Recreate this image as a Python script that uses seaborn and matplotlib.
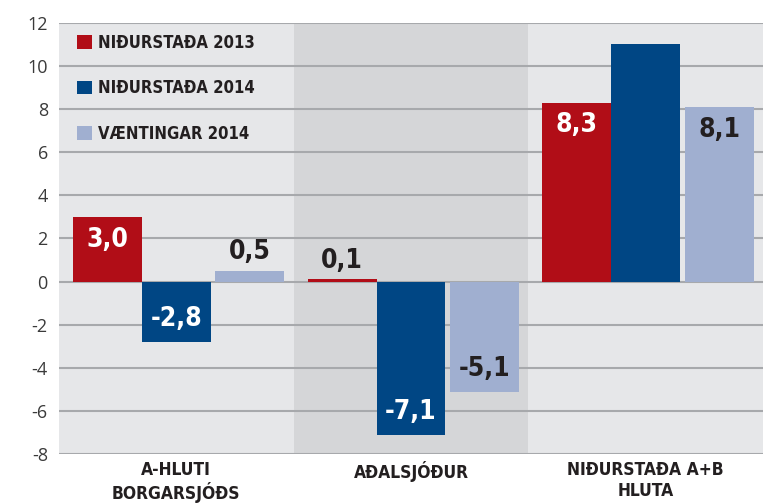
import pandas as pd
import numpy as np
import matplotlib.pyplot as plt
import seaborn as sns

# --- Data ---
groups = ['A-HLUTI\nBORGARSJÓÐS', 'AÐALSJÓÐUR', 'NIÐURSTAÐA A+B\nHLUTA']
series = ['NIÐURSTAÐA 2013', 'NIÐURSTAÐA 2014', 'VÆNTINGAR 2014']
nidurstada_2013 = [3.0, 0.1, 8.3]
nidurstada_2014 = [-2.8, -7.1, 11.0]
vaentingar_2014 = [0.5, -5.1, 8.1]
show_label = [[True, True, True], [True, True, False], [True, True, True]]

colors = ['#b10d17', '#004684', '#a0afd0']
label_colors = ['white', 'white', '#231f20']
bg_light = '#e6e7e9'
bg_dark = '#d5d6d8'

df = pd.DataFrame({
    'group': groups * 3,
    'series': np.repeat(series, 3),
    'value': nidurstada_2013 + nidurstada_2014 + vaentingar_2014,
})

sns.set_style('white')
plt.rcParams['font.family'] = ['DejaVu Sans']
plt.rcParams['font.stretch'] = 'condensed'

fig = plt.figure(figsize=(7.78, 5.03), dpi=100)
ax = fig.add_axes([0.0758, 0.0974, 0.905, 0.857])

# background bands
for i in range(3):
    ax.axvspan(i - 0.5, i + 0.5, color=bg_dark if i == 1 else bg_light, zorder=0, lw=0)

sns.barplot(data=df, x='group', y='value', hue='series', palette=colors,
            saturation=1, width=0.88, errorbar=None, ax=ax, zorder=2, linewidth=0)

# small gap before the third series
for j, cont in enumerate(ax.containers):
    if j == 2:
        for p in cont:
            p.set_x(p.get_x() + 0.02)

# value labels
all_vals = [nidurstada_2013, nidurstada_2014, vaentingar_2014]
for j, cont in enumerate(ax.containers):
    for i, p in enumerate(cont):
        if not show_label[j][i]:
            continue
        v = all_vals[j][i]
        xc = p.get_x() + p.get_width() / 2
        if abs(v) > 1:
            y = v - np.sign(v) * 1.05
            col = label_colors[j]
        else:
            y = v + 0.85
            col = '#231f20'
        ax.text(xc, y, f'{v:.1f}'.replace('.', ','), ha='center', va='center',
                fontsize=19, fontweight='heavy', color=col, zorder=3)

ax.set_xlim(-0.5, 2.5)
ax.set_ylim(-8, 12)
ax.set_yticks(range(-8, 13, 2))
ax.yaxis.grid(True, color='#a7a9ac', lw=1.5, zorder=1)
ax.set_axisbelow(True)
for s in ax.spines.values():
    s.set_visible(False)
ax.tick_params(length=0)
ax.tick_params(axis='y', labelsize=13, labelcolor='#3a3a3a', pad=8)
ax.set_yticklabels([str(t) for t in range(-8, 13, 2)], family=['Open Sans', 'DejaVu Sans'],
                   stretch='normal')
ax.set_xticks(range(3))
ax.set_xticklabels(groups, fontsize=12.5, fontweight='bold', color='#231f20', linespacing=1.2)
ax.tick_params(axis='x', pad=5)
ax.set_xlabel('')
ax.set_ylabel('')

handles, labels = ax.get_legend_handles_labels()
leg = ax.legend(handles, labels, loc='upper left', bbox_to_anchor=(0.0256, 0.975),
                frameon=False, borderpad=0, borderaxespad=0, handlelength=0.9,
                handleheight=0.9, handletextpad=0.35, labelspacing=1.65,
                prop={'size': 12, 'weight': 'bold', 'stretch': 'condensed'})
for t in leg.get_texts():
    t.set_color('#231f20')

fig.savefig('out.png', dpi=100)
